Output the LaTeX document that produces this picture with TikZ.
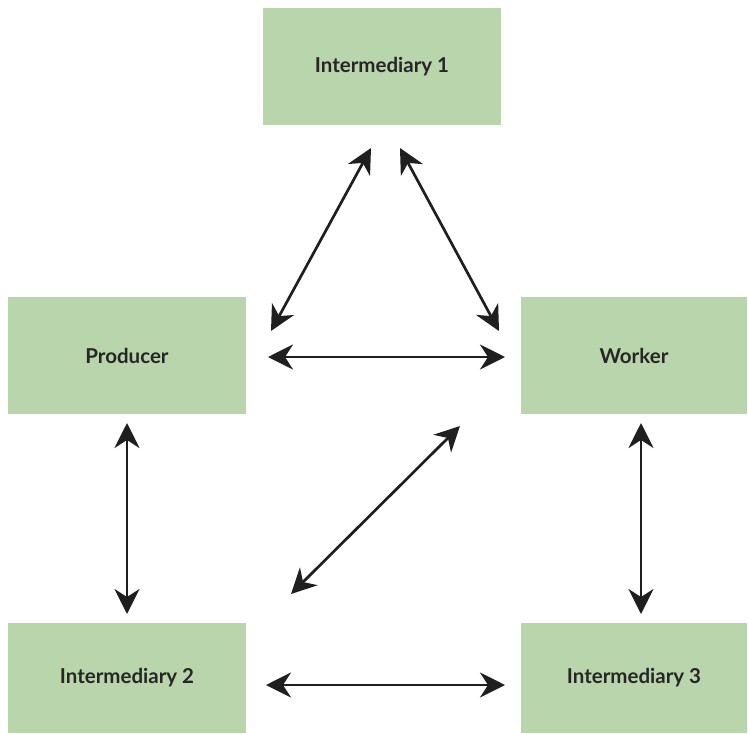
\documentclass[tikz,border=0pt]{standalone}
\usepackage{fontspec}
\setmainfont{Lato}
\usetikzlibrary{arrows.meta}
\definecolor{boxgreen}{HTML}{B9D5AC}

\begin{document}
\begin{tikzpicture}[x=1pt,y=-1pt,
    box/.style={fill=boxgreen,inner sep=0pt,font=\bfseries\fontsize{20.5}{24}\selectfont,text=black!85},
    arc/.style={draw,line width=2.7pt,black!88,{Stealth[length=25pt,width=25pt,inset=8pt]}-{Stealth[length=25pt,width=25pt,inset=8pt]}}]
    \useasboundingbox (0,0) rectangle (748,734);

    \node[box,minimum width=238pt,minimum height=117pt] (int1) at (382,66.5) {Intermediary 1};
    \node[box,minimum width=238pt,minimum height=117pt] (prod) at (127,355.5) {Producer};
    \node[box,minimum width=226pt,minimum height=117pt] (work) at (634,355.5) {Worker};
    \node[box,minimum width=238pt,minimum height=110pt] (int2) at (127,678) {Intermediary 2};
    \node[box,minimum width=226pt,minimum height=110pt] (int3) at (634,678) {Intermediary 3};

    % free ends of the arrows
    \foreach \name/\x/\y in {a1/371/148,a2/271/331,b1/400/148,b2/499/331,
        c1/268/357,c2/505/357,d1/127/423,d2/127/614,e1/641/423,e2/641/614,
        f1/460/426,f2/291/594,g1/266/685,g2/505/685}{
        \coordinate (\name) at (\x,\y);
    }

    \foreach \s/\t in {a1/a2,b1/b2,c1/c2,d1/d2,e1/e2,f1/f2,g1/g2}{
        \draw[arc] (\s) -- (\t);
    }
\end{tikzpicture}
\end{document}
